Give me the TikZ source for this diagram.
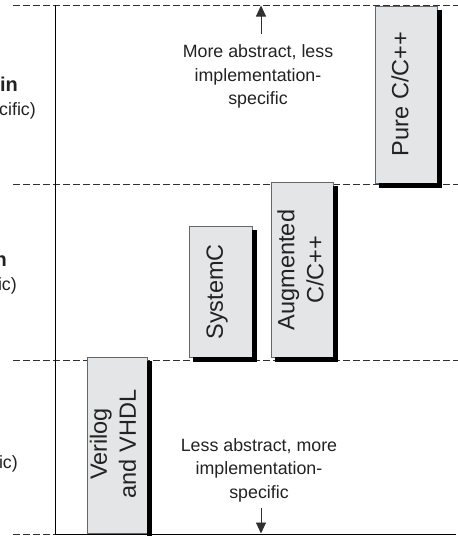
\documentclass[tikz,border=0pt]{standalone}
\usepackage{fontspec}
\setmainfont{Liberation Sans}
\usetikzlibrary{arrows.meta}
\definecolor{boxgray}{HTML}{E4E5E6}
\definecolor{linegray}{HTML}{303030}
\definecolor{textgray}{HTML}{222222}
\begin{document}
\begin{tikzpicture}[x=1pt,y=-1pt,
  dashline/.style={draw=linegray, line width=0.9pt, dash pattern=on 6.5pt off 3.5pt},
  solidline/.style={draw=black, line width=1pt},
  langbox/.style={fill=boxgray, draw=black!60, line width=0.6pt},
  shadowbar/.style={fill=black, draw=none},
  boxtext/.style={rotate=90, align=center, inner sep=0pt, text=textgray,
    font=\fontsize{23.5}{29}\selectfont},
  note/.style={align=center, inner sep=0pt, text=textgray,
    font=\fontsize{17.8}{23.5}\selectfont},
  side/.style={inner sep=0pt, anchor=base east, text=textgray,
    font=\fontsize{17.8}{22}\selectfont},
  sidebold/.style={inner sep=0pt, anchor=base east, text=textgray,
    font=\fontsize{20}{24}\bfseries},
  arr/.style={draw=linegray, line width=0.9pt, -{Triangle[length=11pt,width=10pt]}}
]
\useasboundingbox (0,0) rectangle (458,536);

% level lines
\draw[dashline] (13,5) -- (458,5);
\draw[dashline] (13,184) -- (458,184);
\draw[dashline] (13,360) -- (458,360);
\draw[dashline] (13,534) -- (55,534);
\draw[solidline] (55,534) -- (456,534);
\draw[solidline] (55,5) -- (55,534);

% language boxes
\path[langbox] (375,6) rectangle (437,183);
\path[langbox] (189,226) rectangle (252,357);
\path[langbox] (271,182) rectangle (333,357);
\path[langbox] (87,357) rectangle (147,533.5);

% shadows (right and bottom bars, drawn beside the boxes)
\path[shadowbar] (437.3,10) rectangle (441.5,187.5);
\path[shadowbar] (379,183.3) rectangle (441.5,187.5);
\path[shadowbar] (252.3,230) rectangle (256.5,361.5);
\path[shadowbar] (193,357.3) rectangle (256.5,361.5);
\path[shadowbar] (333.3,186) rectangle (337.5,361.5);
\path[shadowbar] (275,357.3) rectangle (337.5,361.5);
\path[shadowbar] (147.3,361) rectangle (151.5,536);

\node[boxtext] (puret) at (400,94) {Pure C/C++};
\node[boxtext] (sysct) at (217,292) {SystemC};
\node[boxtext] (augt) at (300.5,270) {Augmented\\C/C++};
\node[boxtext] (verit) at (113,444) {Verilog\\and VHDL};

% notes and arrows
\node[note, anchor=north] (moret) at (258,44.5) {More abstract, less\\implementation-\\specific};
\node[note, anchor=north] (lesst) at (259,438) {Less abstract, more\\implementation-\\specific};
\coordinate (toptip) at (261,5.5);
\coordinate (bottip) at (261,533.5);
\draw[arr, shorten <=11pt] (moret.north -| toptip) -- (toptip);
\draw[arr, shorten <=6pt] (lesst.south -| bottip) -- (bottip);

% cropped side labels
\node[sidebold] (s1a) at (18,91) {in};
\node[side] (s1b) at (36,115) {cific)};
\node[sidebold] (s2a) at (7,266) {n};
\node[side] (s2b) at (17,290) {ic)};
\node[side] (s3b) at (18,468) {ic)};
\end{tikzpicture}
\end{document}
